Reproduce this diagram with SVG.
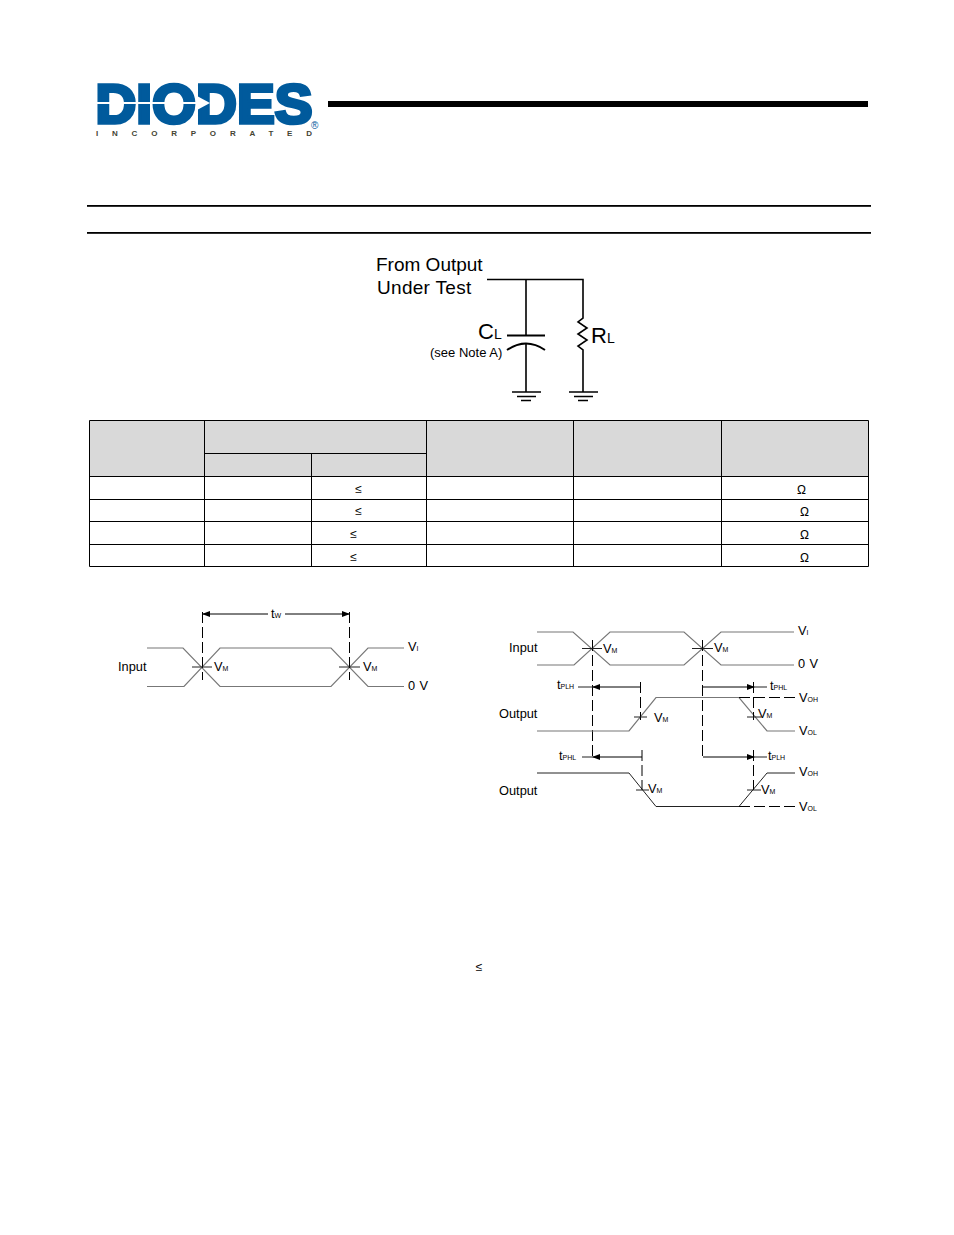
<svg xmlns="http://www.w3.org/2000/svg" width="954" height="1235" viewBox="0 0 954 1235">
<defs>
<marker id="arr" markerWidth="8" markerHeight="6" refX="7" refY="3" orient="auto-start-reverse" markerUnits="userSpaceOnUse"><path d="M0 0L8 3L0 6Z" fill="#000"/></marker>
</defs>
<style>
text{font-family:"Liberation Sans",Arial,sans-serif;fill:#000}
.w{fill:none;stroke:#222;stroke-width:1}
.g{fill:none;stroke:#777;stroke-width:1.2}
.d{fill:none;stroke:#000;stroke-width:1;stroke-dasharray:11 4}
.a{fill:none;stroke:#000;stroke-width:1;marker-start:url(#arr);marker-end:url(#arr)}
.c{fill:none;stroke:#000;stroke-width:1.6}
.s{font-size:12.800px}
.b{font-size:7px}
.hd{fill:#d9d9d9}
</style>
<rect width="954" height="1235" fill="#fff"/>
<g id="logo">
<text x="95.500" y="122.500" font-size="55" font-weight="700" textLength="217" lengthAdjust="spacingAndGlyphs" style="fill:#005a9c;stroke:#005a9c;stroke-width:3.500">DIODES</text>
<path d="M96 103H200" stroke="#fff" stroke-width="1.800" fill="none"/>
<path d="M197 96L210 103L197 110Z" fill="#fff"/>
<text x="96" y="135.500" font-size="8" font-weight="700" textLength="216" style="fill:#444433">INCORPORATED</text>
<text x="311" y="129" font-size="10" style="fill:#005a9c">®</text>
</g>
<g id="rules">
<rect x="328" y="101" width="540" height="6" fill="#000"/>
<rect x="87" y="205" width="784" height="1.800" fill="#000"/>
<rect x="87" y="232" width="784" height="1.800" fill="#000"/>
</g>
<g id="circuit">
<text x="376" y="271" font-size="19">From Output</text>
<text x="377" y="294" font-size="19" letter-spacing="0.300">Under Test</text>
<text x="478" y="339" font-size="22">C<tspan font-size="14">L</tspan></text>
<text x="591" y="343" font-size="22">R<tspan font-size="14">L</tspan></text>
<text x="430" y="357" font-size="13">(see Note A)</text>
<path class="c" d="M487 279.500H583V318L578 322L587 328L578 334L587 340L578 346L583 350V392M526 279.500V336M526 343V392"/>
<path d="M507 335.500H545" fill="none" stroke="#000" stroke-width="2"/>
<path d="M507 350Q526 337 545 350" fill="none" stroke="#000" stroke-width="2"/>
<path class="c" d="M512 392H541M517 396.500H536M521 400.500H531M569 392H598M574 396.500H593M578 400.500H588"/>
</g>
<g id="table">
<rect class="hd" x="89.500" y="420.500" width="779" height="56"/>
<path fill="none" stroke="#000" stroke-width="1" d="M89.500 420.500H868.500V566.500H89.500ZM89.500 476.500H868.500M89.500 499.500H868.500M89.500 521.500H868.500M89.500 544.500H868.500M204.500 420.500V566.500M426.500 420.500V566.500M573.500 420.500V566.500M721.500 420.500V566.500M311.500 453.500V566.500M204.500 453.500H426.500"/>
<g font-size="12" text-anchor="middle">
<text x="358.500" y="493">≤</text><text x="358.500" y="515">≤</text><text x="353.500" y="538">≤</text><text x="353.500" y="561">≤</text>
<text x="801.500" y="494">Ω</text><text x="804.500" y="516">Ω</text><text x="804.500" y="539">Ω</text><text x="804.500" y="562">Ω</text>
</g>
</g>
<g id="pulse">
<path class="g" d="M147 648H183L220 686.500H331L368 648H404"/>
<path class="g" d="M147 686.500H184L220 648H331L368 686.500H404"/>
<path class="d" d="M202.500 612V680M349.500 612V680"/>
<path class="a" d="M203 614H349" stroke-dasharray="65 17 65"/>
<path class="w" d="M192 667H212M339 667H360"/>
<text class="s" x="118" y="671">Input</text>
<text class="s" x="271" y="618">t<tspan class="b">W</tspan></text>
<text class="s" x="214" y="671">V<tspan class="b">M</tspan></text>
<text class="s" x="363" y="671">V<tspan class="b">M</tspan></text>
<text class="s" x="408" y="651">V<tspan class="b">I</tspan></text>
<text class="s" x="408" y="690" letter-spacing="0.400">0 V</text>
</g>
<g id="timing">
<path class="g" d="M537 632H573L610 665H684L721 632H794"/>
<path class="g" d="M537 665H574L610 632H684L721 665H794"/>
<path class="d" d="M592.500 640V757M702.500 640V757"/>
<path class="w" d="M582 648.500H602M692 648.500H713"/>
<text class="s" x="509" y="652">Input</text>
<text class="s" x="603" y="653">V<tspan class="b">M</tspan></text>
<text class="s" x="714" y="652">V<tspan class="b">M</tspan></text>
<text class="s" x="798" y="635">V<tspan class="b">I</tspan></text>
<text class="s" x="798" y="668" letter-spacing="0.400">0 V</text>
<path class="g" d="M537 731H629L656 697.500H739L767 731H795"/>
<path class="d" d="M739 697.500H795M640.500 682V720M753.500 682V720"/>
<path class="a" d="M593 687H640M703 687H754"/>
<path class="w" d="M578 687H593M754 687H767M634 717H647M747 717H761"/>
<text class="s" x="557" y="689">t<tspan class="b">PLH</tspan></text>
<text class="s" x="770" y="690">t<tspan class="b">PHL</tspan></text>
<text class="s" x="499" y="718">Output</text>
<text class="s" x="654" y="722">V<tspan class="b">M</tspan></text>
<text class="s" x="758" y="718">V<tspan class="b">M</tspan></text>
<text class="s" x="799" y="702">V<tspan class="b">OH</tspan></text>
<text class="s" x="799" y="735">V<tspan class="b">OL</tspan></text>
<path class="w" d="M537 773H629L656 806.500H739L767 773H795"/>
<path class="d" d="M739 806.500H795M642 750V790M753.500 750V790"/>
<path class="a" d="M593 757H642M703 757H754"/>
<path class="w" d="M582 757H593M754 757H767M636 790H649M747 790H761"/>
<text class="s" x="559" y="760">t<tspan class="b">PHL</tspan></text>
<text class="s" x="768" y="760">t<tspan class="b">PLH</tspan></text>
<text class="s" x="499" y="795">Output</text>
<text class="s" x="648" y="793">V<tspan class="b">M</tspan></text>
<text class="s" x="761" y="794">V<tspan class="b">M</tspan></text>
<text class="s" x="799" y="776">V<tspan class="b">OH</tspan></text>
<text class="s" x="799" y="811">V<tspan class="b">OL</tspan></text>
</g>
<g id="note"><text x="479" y="971" font-size="12" text-anchor="middle">≤</text></g>
</svg>
